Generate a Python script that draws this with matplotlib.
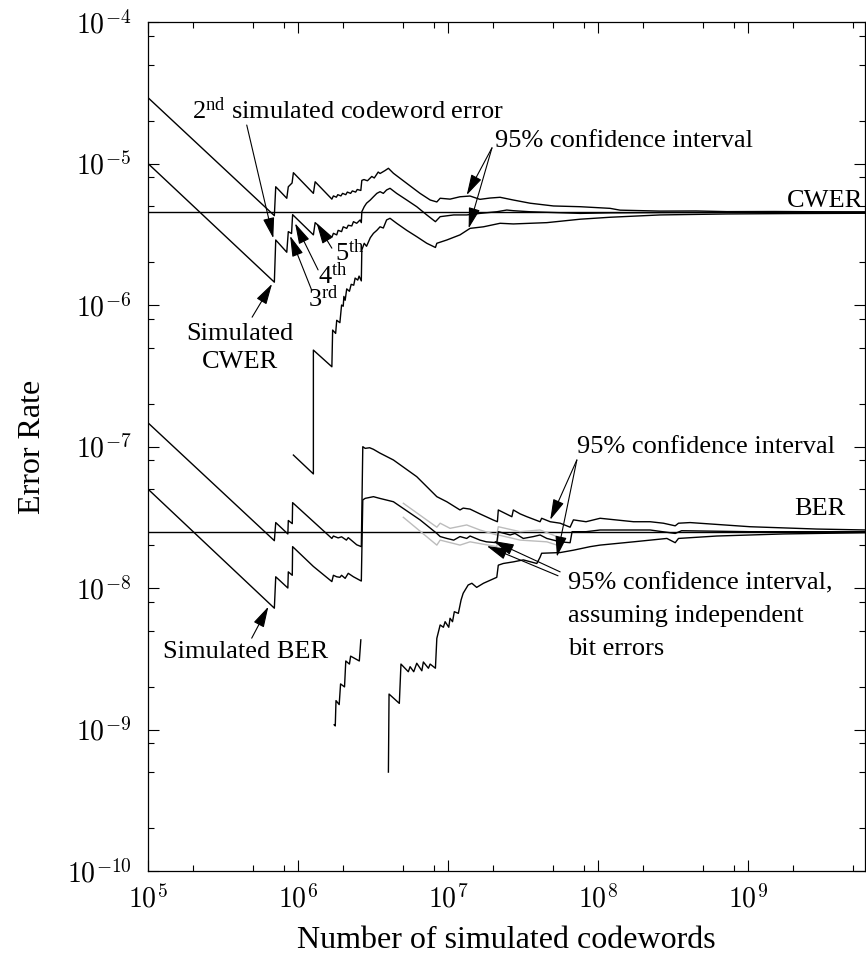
import numpy as np
import matplotlib
matplotlib.use("Agg")
import matplotlib.pyplot as plt
from matplotlib.ticker import LogLocator, NullFormatter, FuncFormatter

# ---- data (codewords, error rate) ----
cwer_true = 4.52e-6
ber_true = 2.5e-8

# CWER: upper 95% bound
cw_up_n = [1.0e5, 6.95e5, 7.10e5, 8.41e5, 8.61e5, 9.12e5, 9.31e5, 1.265e6, 1.30e6, 1.68e6,
           1.72e6, 1.80e6, 1.84e6, 1.93e6, 1.98e6, 2.08e6, 2.13e6, 2.24e6, 2.30e6, 2.42e6,
           2.48e6, 2.62e6, 2.66e6, 2.75e6, 2.90e6, 3.10e6, 3.22e6, 3.42e6, 3.52e6, 3.79e6,
           4.00e6, 4.32e6, 5.30e6, 6.50e6, 7.60e6, 8.41e6, 8.85e6, 1.03e7, 1.20e7, 1.40e7,
           1.63e7, 1.90e7, 2.22e7, 2.72e7, 3.52e7, 5.04e7, 7.59e7, 1.20e8, 1.40e8, 2.59e8,
           4.5e8, 7.21e8, 1.5e9, 3.0e9, 6.12e9]
cw_up_r = [2.92e-5, 4.28e-6, 6.85e-6, 5.68e-6, 6.85e-6, 7.28e-6, 8.61e-6, 6.15e-6, 7.43e-6, 5.60e-6,
           5.90e-6, 5.78e-6, 6.02e-6, 5.90e-6, 6.15e-6, 6.02e-6, 6.28e-6, 6.15e-6, 6.40e-6, 6.28e-6,
           6.55e-6, 6.45e-6, 7.60e-6, 7.70e-6, 7.55e-6, 8.10e-6, 7.90e-6, 8.70e-6, 8.50e-6, 8.90e-6,
           9.25e-6, 8.53e-6, 7.24e-6, 6.15e-6, 5.52e-6, 5.35e-6, 5.68e-6, 5.60e-6, 5.82e-6, 5.89e-6,
           5.58e-6, 5.70e-6, 5.77e-6, 5.52e-6, 5.24e-6, 5.01e-6, 4.95e-6, 4.82e-6, 4.68e-6, 4.61e-6,
           4.62e-6, 4.57e-6, 4.58e-6, 4.56e-6, 4.55e-6]

# CWER: simulated
cw_sim_n = [1.0e5, 6.95e5, 7.10e5, 8.41e5, 8.61e5, 9.05e5, 9.20e5, 1.265e6, 1.30e6, 1.68e6,
            1.72e6, 1.81e6, 1.85e6, 1.95e6, 2.00e6, 2.11e6, 2.16e6, 2.28e6, 2.34e6, 2.46e6,
            2.59e6, 2.64e6, 2.66e6, 2.76e6, 2.86e6, 3.03e6, 3.18e6, 3.35e6, 3.52e6, 3.70e6,
            3.89e6, 4.10e6, 4.54e6, 5.30e6, 6.18e6, 7.21e6, 8.23e6, 8.85e6, 1.09e7, 1.33e7,
            1.63e7, 2.11e7, 2.46e7, 2.72e7, 3.52e7, 4.55e7, 7.59e7, 1.20e8, 2.59e8, 6.0e8,
            1.5e9, 6.12e9]
cw_sim_r = [1.0e-5, 1.45e-6, 2.88e-6, 2.36e-6, 3.30e-6, 3.20e-6, 4.35e-6, 3.13e-6, 3.82e-6, 3.01e-6,
            3.21e-6, 3.13e-6, 3.37e-6, 3.30e-6, 3.57e-6, 3.48e-6, 3.66e-6, 3.62e-6, 3.88e-6, 3.78e-6,
            3.99e-6, 3.82e-6, 4.56e-6, 4.95e-6, 5.24e-6, 5.52e-6, 5.82e-6, 6.15e-6, 6.32e-6, 6.15e-6,
            6.50e-6, 6.68e-6, 6.15e-6, 5.52e-6, 4.95e-6, 4.33e-6, 3.88e-6, 4.21e-6, 4.33e-6, 4.33e-6,
            4.44e-6, 4.56e-6, 4.69e-6, 4.64e-6, 4.56e-6, 4.52e-6, 4.44e-6, 4.48e-6, 4.50e-6, 4.51e-6,
            4.52e-6, 4.52e-6]

# CWER: lower 95% bound
cw_lo_n = [9.31e5, 1.265e6, 1.265e6, 1.68e6, 1.70e6, 1.78e6, 1.81e6, 1.90e6, 1.95e6, 2.00e6,
           2.02e6, 2.06e6, 2.11e6, 2.20e6, 2.26e6, 2.35e6, 2.40e6, 2.50e6, 2.55e6, 2.64e6,
           2.66e6, 2.76e6, 2.86e6, 3.03e6, 3.18e6, 3.35e6, 3.52e6, 3.70e6, 3.89e6, 4.10e6,
           4.54e6, 5.30e6, 6.18e6, 7.21e6, 8.23e6, 8.41e6, 9.80e6, 1.20e7, 1.40e7, 1.72e7,
           2.22e7, 2.72e7, 4.55e7, 7.59e7, 1.20e8, 2.59e8, 7.21e8, 2.0e9, 6.12e9]
cw_lo_r = [8.7e-8, 6.4e-8, 4.8e-7, 3.66e-7, 6.65e-7, 6.3e-7, 7.8e-7, 7.5e-7, 1.0e-6, 9.8e-7,
           1.15e-6, 1.08e-6, 1.30e-6, 1.25e-6, 1.40e-6, 1.38e-6, 1.55e-6, 1.50e-6, 1.60e-6, 1.48e-6,
           2.45e-6, 2.73e-6, 2.60e-6, 2.99e-6, 3.21e-6, 3.37e-6, 3.57e-6, 3.50e-6, 3.99e-6, 4.10e-6,
           3.78e-6, 3.37e-6, 3.04e-6, 2.73e-6, 2.55e-6, 2.73e-6, 2.88e-6, 3.13e-6, 3.48e-6, 3.57e-6,
           3.78e-6, 3.74e-6, 3.82e-6, 4.04e-6, 4.17e-6, 4.33e-6, 4.40e-6, 4.43e-6, 4.45e-6]

# BER: upper 95% bound
ber_up_n = [1.0e5, 6.95e5, 7.10e5, 8.55e5, 8.61e5, 9.15e5, 9.20e5, 1.68e6, 1.72e6, 1.85e6,
            1.95e6, 2.10e6, 2.16e6, 2.46e6, 2.64e6, 2.70e6, 2.80e6, 3.00e6, 3.18e6, 3.50e6,
            4.32e6, 6.18e6, 8.41e6, 9.80e6, 1.20e7, 1.26e7, 1.40e7, 1.63e7, 1.99e7, 2.13e7,
            2.16e7, 2.66e7, 2.72e7, 3.02e7, 3.35e7, 4.10e7, 4.20e7, 4.79e7, 5.58e7, 6.50e7,
            6.84e7, 8.30e7, 1.03e8, 1.72e8, 2.22e8, 2.72e8, 3.26e8, 3.43e8, 4.10e8, 1.03e9,
            2.87e9, 6.12e9]
ber_up_r = [1.47e-7, 2.16e-8, 2.90e-8, 2.41e-8, 3.00e-8, 2.85e-8, 4.01e-8, 2.24e-8, 2.33e-8, 2.26e-8,
            2.30e-8, 2.18e-8, 2.27e-8, 2.02e-8, 1.96e-8, 9.97e-8, 9.70e-8, 9.80e-8, 9.55e-8, 9.00e-8,
            8.03e-8, 6.12e-8, 4.42e-8, 4.07e-8, 3.56e-8, 3.67e-8, 3.61e-8, 3.34e-8, 3.03e-8, 2.94e-8,
            3.56e-8, 3.19e-8, 3.56e-8, 3.34e-8, 3.19e-8, 2.94e-8, 3.11e-8, 2.94e-8, 2.87e-8, 2.69e-8,
            3.03e-8, 2.94e-8, 3.11e-8, 2.94e-8, 2.94e-8, 2.87e-8, 2.75e-8, 2.87e-8, 2.90e-8, 2.71e-8,
            2.61e-8, 2.57e-8]

# BER: simulated
ber_sim_n = [1.0e5, 6.95e5, 7.10e5, 8.55e5, 8.61e5, 9.15e5, 9.20e5, 1.265e6, 1.68e6, 1.72e6,
             1.81e6, 1.90e6, 1.95e6, 2.06e6, 2.16e6, 2.34e6, 2.64e6, 2.70e6, 2.80e6, 3.18e6,
             3.50e6, 4.32e6, 6.50e6, 8.41e6, 8.85e6, 9.80e6, 1.09e7, 1.20e7, 1.33e7, 1.40e7,
             1.63e7, 1.80e7, 2.11e7, 2.16e7, 2.59e7, 2.79e7, 3.17e7, 3.71e7, 4.10e7, 4.55e7,
             5.58e7, 6.50e7, 6.70e7, 8.30e7, 1.03e8, 2.22e8, 3.26e8, 3.60e8, 1.03e9, 6.12e9]
ber_sim_r = [5.0e-8, 7.2e-9, 1.20e-8, 1.0e-8, 1.30e-8, 1.23e-8, 1.96e-8, 1.42e-8, 1.11e-8, 1.23e-8,
             1.20e-8, 1.19e-8, 1.23e-8, 1.17e-8, 1.27e-8, 1.20e-8, 1.12e-8, 4.19e-8, 4.30e-8, 4.42e-8,
             4.30e-8, 4.07e-8, 3.03e-8, 2.43e-8, 2.31e-8, 2.24e-8, 2.18e-8, 2.31e-8, 2.24e-8, 2.33e-8,
             2.18e-8, 2.12e-8, 2.09e-8, 2.50e-8, 2.37e-8, 2.43e-8, 2.24e-8, 2.31e-8, 2.37e-8, 2.24e-8,
             2.12e-8, 2.09e-8, 2.50e-8, 2.50e-8, 2.57e-8, 2.57e-8, 2.43e-8, 2.54e-8, 2.50e-8, 2.50e-8]

# BER: lower 95% bound (two pieces)
ber_lo_a_n = [1.74e6, 1.77e6, 1.79e6, 1.88e6, 1.92e6, 2.04e6, 2.08e6, 2.20e6, 2.24e6, 2.56e6, 2.62e6]
ber_lo_a_r = [1.08e-9, 1.06e-9, 1.60e-9, 1.50e-9, 2.10e-9, 2.00e-9, 3.05e-9, 2.90e-9, 3.30e-9, 3.05e-9, 4.30e-9]
ber_lo_b_n = [4.00e6, 4.04e6, 4.73e6, 4.85e6, 5.43e6, 5.58e6, 5.90e6, 6.18e6, 6.68e6, 6.84e6,
              7.39e6, 7.59e6, 8.23e6, 8.41e6, 8.85e6, 9.30e6, 9.55e6, 1.01e7, 1.03e7, 1.07e7,
              1.10e7, 1.17e7, 1.22e7, 1.26e7, 1.36e7, 1.44e7, 1.55e7, 1.72e7, 2.11e7, 2.16e7,
              2.33e7, 2.72e7, 3.17e7, 3.90e7, 4.10e7, 4.20e7, 5.58e7, 6.84e7, 8.85e7, 1.03e8,
              1.72e8, 2.87e8, 3.26e8, 3.43e8, 6.18e8, 1.72e9, 6.12e9]
ber_lo_b_r = [5.0e-10, 1.78e-9, 1.53e-9, 2.90e-9, 2.56e-9, 2.78e-9, 2.56e-9, 2.94e-9, 2.60e-9, 3.00e-9,
              2.71e-9, 2.90e-9, 2.71e-9, 4.41e-9, 5.48e-9, 5.28e-9, 5.78e-9, 5.28e-9, 6.11e-9, 5.78e-9,
              6.80e-9, 6.62e-9, 8.23e-9, 9.18e-9, 1.05e-8, 1.08e-8, 1.01e-8, 1.08e-8, 1.19e-8, 1.45e-8,
              1.49e-8, 1.53e-8, 1.58e-8, 1.49e-8, 1.65e-8, 1.76e-8, 1.78e-8, 1.85e-8, 1.96e-8, 2.01e-8,
              2.12e-8, 2.24e-8, 2.09e-8, 2.24e-8, 2.33e-8, 2.41e-8, 2.46e-8]

# BER: 95% bounds assuming independent bit errors (grey)
ind_up_n = [5.03e6, 8.41e6, 8.85e6, 1.03e7, 1.33e7, 1.63e7, 2.11e7, 2.16e7, 3.02e7, 4.10e7, 5.31e7]
ind_up_r = [3.97e-8, 2.69e-8, 2.87e-8, 2.64e-8, 2.79e-8, 2.57e-8, 2.37e-8, 2.71e-8, 2.50e-8, 2.57e-8, 2.31e-8]
ind_lo_n = [5.03e6, 8.41e6, 8.85e6, 1.20e7, 1.40e7, 2.11e7, 2.16e7, 3.02e7, 4.55e7, 5.31e7]
ind_lo_r = [3.16e-8, 2.01e-8, 2.18e-8, 2.01e-8, 2.12e-8, 1.96e-8, 2.37e-8, 2.18e-8, 2.12e-8, 2.01e-8]

xmin, xmax = 1e5, 6.0e9
ymin, ymax = 1e-10, 1e-4

plt.rcParams['font.family'] = ['Liberation Serif', 'DejaVu Serif']
plt.rcParams['mathtext.fontset'] = 'cm'
plt.rcParams['mathtext.rm'] = 'Liberation Serif'
plt.rcParams['mathtext.it'] = 'Liberation Serif:italic'

fig = plt.figure(figsize=(8.66, 9.55), dpi=100)
ax = fig.add_axes([148 / 866, 1 - 871 / 955, 717 / 866, 849 / 955])

lw = 1.0
k = 'black'
ax.axhline(cwer_true, color=k, lw=lw)
ax.axhline(ber_true, color=k, lw=lw)
ax.plot(ind_up_n, ind_up_r, color='#bcbcbc', lw=lw)
ax.plot(ind_lo_n, ind_lo_r, color='#bcbcbc', lw=lw)
for n, r in [(cw_up_n, cw_up_r), (cw_sim_n, cw_sim_r), (cw_lo_n, cw_lo_r),
             (ber_up_n, ber_up_r), (ber_sim_n, ber_sim_r),
             (ber_lo_a_n, ber_lo_a_r), (ber_lo_b_n, ber_lo_b_r)]:
    ax.plot(n, r, color=k, lw=lw)

ax.set_xscale('log')
ax.set_yscale('log')
ax.set_xlim(xmin, xmax)
ax.set_ylim(ymin, ymax)

fmt = FuncFormatter(lambda v, p: r'$10^{%d}$' % int(round(np.log10(v))))
for axis in (ax.xaxis, ax.yaxis):
    axis.set_major_locator(LogLocator(base=10, numticks=30))
    axis.set_minor_locator(LogLocator(base=10, subs=(2, 5, 8), numticks=30))
    axis.set_major_formatter(fmt)
    axis.set_minor_formatter(NullFormatter())
ax.tick_params(which='both', direction='in', top=True, right=True, width=0.8, labelsize=20)
ax.tick_params(which='major', length=8)
ax.tick_params(which='minor', length=4.5)
ax.tick_params(axis='x', pad=10)
ax.tick_params(axis='y', pad=12)
for s in ax.spines.values():
    s.set_linewidth(0.9)

ax.set_xlabel('Number of simulated codewords', fontsize=23, labelpad=9)
ax.set_ylabel('Error Rate', fontsize=23, labelpad=14)

fs = 19
def note(x, y, s, **kw):
    ax.text(x, y, s, fontsize=fs, math_fontfamily='custom', va='baseline', **kw)

def arrow(tail, tip):
    ax.annotate('', xy=tip, xytext=tail,
                arrowprops=dict(arrowstyle='-|>,head_length=0.8,head_width=0.22',
                                mutation_scale=16, lw=0.8, color=k,
                                shrinkA=0, shrinkB=0))

note(1.96e5, 2.08e-5, r'$2^{\mathrm{nd}}$ simulated codeword error')
arrow((4.55e5, 1.87e-5), (6.84e5, 2.96e-6))

note(2.06e7, 1.31e-5, '95% confidence interval')
arrow((1.96e7, 1.29e-5), (1.33e7, 5.98e-6))
arrow((1.96e7, 1.29e-5), (1.37e7, 3.48e-6))

note(5.87e9, 4.95e-6, 'CWER', ha='right')
note(4.43e9, 3.28e-8, 'BER', ha='right')

note(1.77e6, 2.05e-6, r'$5^{\mathrm{th}}$')
note(1.36e6, 1.42e-6, r'$4^{\mathrm{th}}$')
note(1.17e6, 9.73e-7, r'$3^{\mathrm{rd}}$')
arrow((1.68e6, 2.52e-6), (1.33e6, 3.78e-6))
arrow((1.36e6, 1.77e-6), (9.55e5, 3.78e-6))
arrow((1.23e6, 1.28e-6), (8.85e5, 3.08e-6))

note(4.1e5, 5.66e-7, 'Simulated', ha='center')
note(4.1e5, 3.57e-7, 'CWER', ha='center')
arrow((4.94e5, 8.2e-7), (6.71e5, 1.41e-6))

note(1.58e6, 3.18e-9, 'Simulated BER', ha='right')
arrow((4.91e5, 4.42e-9), (6.34e5, 7.38e-9))

note(7.21e7, 8.95e-8, '95% confidence interval')
arrow((7.21e7, 8.03e-8), (4.79e7, 3.03e-8))
arrow((7.21e7, 8.03e-8), (5.31e7, 1.66e-8))

note(6.31e7, 9.84e-9, '95% confidence interval,')
note(6.31e7, 5.75e-9, 'assuming independent')
note(6.31e7, 3.35e-9, 'bit errors')
arrow((5.58e7, 1.30e-8), (2.0e7, 2.15e-8))
arrow((5.4e7, 1.22e-8), (1.81e7, 1.98e-8))

fig.savefig('out.png', dpi=100)
